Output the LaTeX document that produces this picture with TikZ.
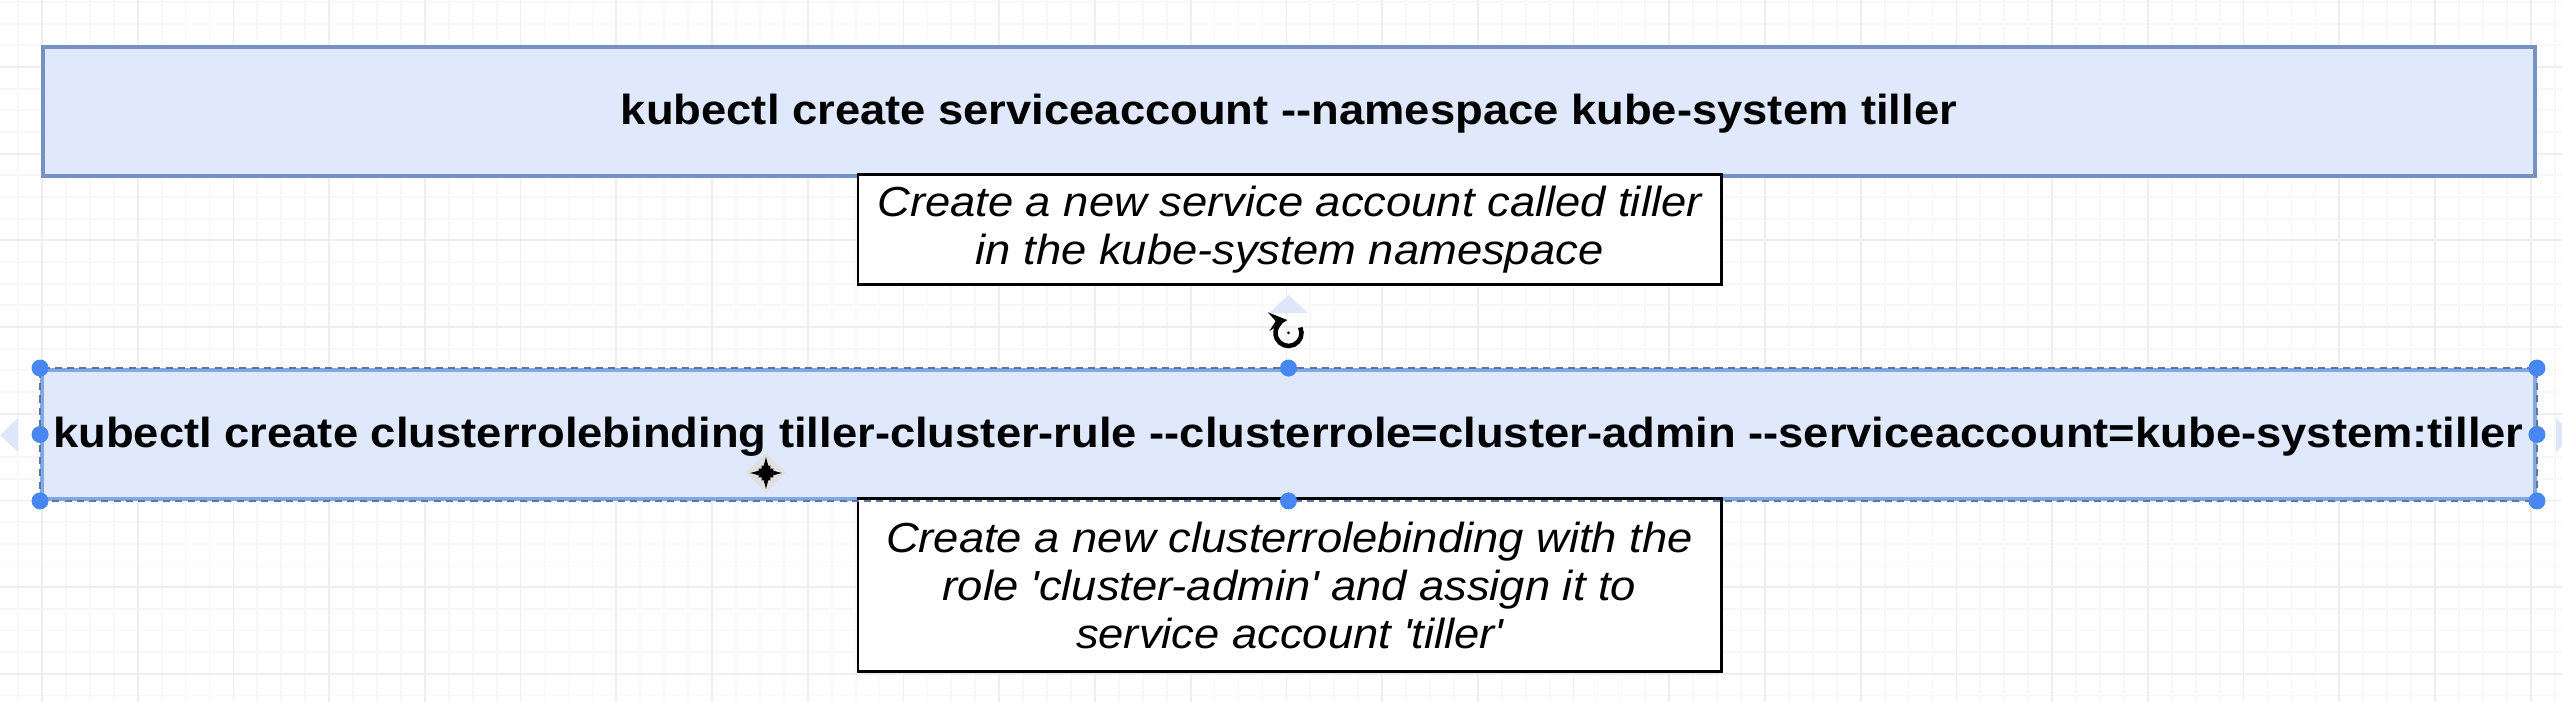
\documentclass[tikz,border=0pt]{standalone}
\usepackage{fontspec}
\setmainfont{Liberation Sans}[FakeStretch=1.08]
\usetikzlibrary{arrows}
\definecolor{cmdfill}{RGB}{223,233,251}
\definecolor{cmdline}{RGB}{118,146,197}
\definecolor{selline}{RGB}{128,168,228}
\definecolor{seldash}{RGB}{96,118,158}
\definecolor{handle}{RGB}{72,134,242}
\definecolor{hint}{RGB}{221,231,249}
\definecolor{gridminor}{RGB}{248,248,248}
\definecolor{gridmajor}{RGB}{238,238,238}
\newcommand{\dd}{-\kern0pt-}
\newcommand{\apos}{\textquotesingle}

\begin{document}
\begin{tikzpicture}[>=latex,
    cmd/.style={draw=cmdline, line width=1.1pt, fill=cmdfill, inner sep=0.05cm,
        font=\fontsize{11.95}{13.5}\selectfont\bfseries,
        text height=0.31cm, text depth=0.04cm},
    note/.style={draw=black, line width=0.85pt, fill=white, align=center,
        font=\fontsize{11.95}{13.6}\selectfont\itshape},
    handledot/.style={circle, fill=handle, inner sep=0pt, minimum size=0.17cm}]
    \useasboundingbox (0,0) rectangle (25.62,7.02);
    \fill[white] (0,0) rectangle (25.62,7.02);
    \clip (0,0) rectangle (25.62,7.02);

    % grid
    \begin{scope}[line width=0.5pt]
    \foreach \i in {-1,...,105}
        \draw[gridminor] ({0.42+0.2393*\i},0) -- ++(0,7.02);
    \foreach \j in {-3,...,29}
        \draw[gridminor] (0,{6.35-0.2167*\j}) -- ++(25.62,0);
    \foreach \i in {0,4,...,104}
        \draw[gridmajor] ({0.42+0.2393*\i},0) -- ++(0,7.02);
    \foreach \j in {0,4,...,28}
        \draw[gridmajor] (0,{6.35-0.2167*\j}) -- ++(25.62,0);
    \end{scope}

    % service account
    \node[cmd, minimum width=24.92cm, minimum height=1.29cm] (sa) at (12.89,5.905)
        {kubectl create serviceaccount \dd namespace kube-system tiller};
    \node[note, minimum width=8.63cm, minimum height=1.09cm] (saNote) at (12.895,4.725)
        {Create a new service account called tiller\\in the kube-system namespace};

    % cluster role binding
    \node[cmd, draw=selline, minimum width=24.93cm, minimum height=1.29cm] (crb) at (12.885,2.675)
        {kubectl create clusterrolebinding tiller-cluster-rule \dd clusterrole=cluster-admin \dd serviceaccount=kube-system:tiller};
    \node[note, minimum width=8.63cm, minimum height=1.73cm] (crbNote) at (12.895,1.165)
        {Create a new clusterrolebinding with the\\role \apos cluster-admin\apos\ and assign it to\\service account \apos tiller\apos};

    % selection
    \draw[seldash, line width=0.5pt, dash pattern=on 2pt off 1.5pt]
        (crb.south west) rectangle (crb.north east);
    \foreach \a in {north west,north,north east,west,east,south west,south,south east}
        \node[handledot] at (crb.\a) {};
    \fill[hint] (0.18,2.84) -- (0.18,2.50) -- (0,2.67) -- cycle;
    \fill[hint] (25.56,2.84) -- (25.56,2.50) -- (25.74,2.67) -- cycle;
    \fill[hint] (12.69,3.89) -- (13.08,3.89) -- (12.885,4.07) -- cycle;

    % rotate handle
    \coordinate (rot) at (12.885,3.69);
    \draw[line width=1.3pt,->,>=stealth] ([shift={(25:0.13)}]rot)
        arc[start angle=25, end angle=-265, radius=0.13];
    \fill (rot) circle (0.015);

    % move cursor
    \coordinate (mv) at (7.66,2.29);
    \fill[black!12] ([xshift=-0.2cm]mv) -- ([yshift=0.2cm]mv)
        -- ([xshift=0.2cm]mv) -- ([yshift=-0.2cm]mv) -- cycle;
    \draw[line width=1pt,<->,>={latex[scale=0.8]}] ([xshift=-0.16cm]mv) -- ([xshift=0.16cm]mv);
    \draw[line width=1pt,<->,>={latex[scale=0.8]}] ([yshift=-0.16cm]mv) -- ([yshift=0.16cm]mv);

\end{tikzpicture}
\end{document}
